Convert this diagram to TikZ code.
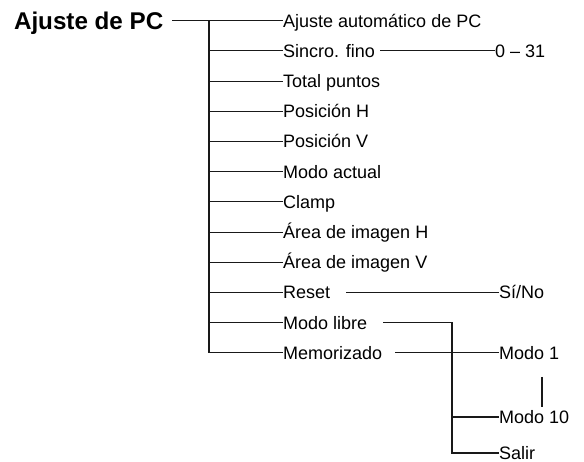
\documentclass[tikz,border=0pt]{standalone}
\usepackage{fontspec}
\setmainfont{Liberation Sans}
\begin{document}
\begin{tikzpicture}[x=1pt,y=-1pt,
  item/.style={font=\fontsize{18}{21}\selectfont, inner sep=0pt, anchor=base west},
  ttl/.style={font=\fontsize{24.2}{29}\selectfont\bfseries, inner sep=0pt, anchor=base east},
  conn/.style={line width=1.1pt, black!90}]
\useasboundingbox (0,0) rectangle (584,462);
% title
\node[ttl] (title) at (163.5,29.2) {Ajuste de PC};
\coordinate (ts) at (172,20.7);
% main items
\node[item] (n1)  at (283,27.1)  {Ajuste automático de PC};
\node[item] (n2)  at (283,57.3)  {Sincro. fino};
\node[item] (n3)  at (283,87.5)  {Total puntos};
\node[item] (n4)  at (283,117.7) {Posición H};
\node[item] (n5)  at (283,147.9) {Posición V};
\node[item] (n6)  at (283,178.1) {Modo actual};
\node[item] (n7)  at (283,208.3) {Clamp};
\node[item] (n8)  at (283,238.5) {Área de imagen H};
\node[item] (n9)  at (283,268.7) {Área de imagen V};
\node[item] (n10) at (283,298.9) {Reset};
\node[item] (n11) at (283,329.1) {Modo libre};
\node[item] (n12) at (283,359.3) {Memorizado};
% trunk coordinates
\coordinate (tk1)  at (209,20.7);
\coordinate (tk2)  at (209,50.9);
\coordinate (tk3)  at (209,81.1);
\coordinate (tk4)  at (209,111.3);
\coordinate (tk5)  at (209,141.5);
\coordinate (tk6)  at (209,171.7);
\coordinate (tk7)  at (209,201.9);
\coordinate (tk8)  at (209,232.1);
\coordinate (tk9)  at (209,262.3);
\coordinate (tk10) at (209,292.5);
\coordinate (tk11) at (209,322.7);
\coordinate (tk12) at (209,352.9);
\draw[conn] (ts) -- (tk1);
\draw[conn] (tk1) -- (tk12);
\foreach \i in {1,...,12} {\draw[conn] (tk\i) -- (tk\i -| n\i.west);}
% sub items
\node[item] (v031)   at (495,57.3)  {0 – 31};
\node[item] (sino)   at (499,298.9) {Sí/No};
\node[item] (modo1)  at (499,359.3) {Modo 1};
\node[item] (modo10) at (499,423.4) {Modo 10};
\node[item] (salir)  at (499,459.4) {Salir};
\coordinate (s1) at (380,50.9);
\coordinate (r1) at (346,292.5);
\coordinate (ml) at (383,322.7);
\coordinate (mc) at (452,322.7);
\coordinate (m10) at (452,417);
\coordinate (sl) at (452,453);
\coordinate (me) at (395,352.9);
\coordinate (tka) at (542,377);
\coordinate (tkb) at (542,407);
\draw[conn] (s1) -- (s1 -| v031.west);
\draw[conn] (r1) -- (r1 -| sino.west);
\draw[conn] (ml) -- (mc) -- (sl) -- (sl -| salir.west);
\draw[conn] (m10) -- (m10 -| modo10.west);
\draw[conn] (me) -- (me -| modo1.west);
\draw[conn] (tka) -- (tkb);
\end{tikzpicture}
\end{document}
